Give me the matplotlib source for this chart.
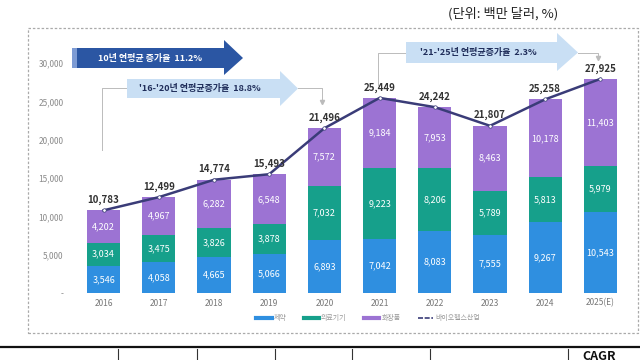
import matplotlib
matplotlib.use("Agg")
import matplotlib.pyplot as plt
from matplotlib.patches import Polygon, Rectangle
from matplotlib.lines import Line2D
import numpy as np

plt.rcParams['font.family'] = ['Noto Sans CJK KR', 'DejaVu Sans']

years = ['2016', '2017', '2018', '2019', '2020', '2021', '2022', '2023', '2024', '2025(E)']
pharma = [3546, 4058, 4665, 5066, 6893, 7042, 8083, 7555, 9267, 10543]
device = [3034, 3475, 3826, 3878, 7032, 9223, 8206, 5789, 5813, 5979]
cosmetic = [4202, 4967, 6282, 6548, 7572, 9184, 7953, 8463, 10178, 11403]
total = [10783, 12499, 14774, 15493, 21496, 25449, 24242, 21807, 25258, 27925]
yticks = [0, 5000, 10000, 15000, 20000, 25000, 30000]
series_names = ['제약', '의료기기', '화장품', '바이오헬스산업']

c_blue = '#2f8fe0'
c_green = '#16a08b'
c_purple = '#9c73d3'
c_line = '#3a3c78'

W, H = 640, 360
fig = plt.figure(figsize=(6.4, 3.6), dpi=100)


def px(x, y):
    return (x / W, 1 - y / H)


ax = fig.add_axes([76 / W, 1 - 293 / H, (628 - 76) / W, (293 - 40) / H])
x = np.arange(len(years))
bw = 0.6
bottom2 = np.array(pharma)
bottom3 = bottom2 + np.array(device)
ax.bar(x, pharma, bw, color=c_blue, zorder=2)
ax.bar(x, device, bw, bottom=bottom2, color=c_green, zorder=2)
ax.bar(x, cosmetic, bw, bottom=bottom3, color=c_purple, zorder=2)
ax.plot(x, total, color=c_line, lw=1.8, zorder=3, marker='o', ms=2.5,
        mfc='white', mec=c_line, mew=0.5)

for i in range(len(years)):
    ax.text(x[i], pharma[i] / 2, f'{pharma[i]:,}', ha='center', va='center',
            color='white', fontsize=6.5, zorder=4)
    ax.text(x[i], bottom2[i] + device[i] / 2, f'{device[i]:,}', ha='center',
            va='center', color='white', fontsize=6.5, zorder=4)
    ax.text(x[i], bottom3[i] + cosmetic[i] / 2, f'{cosmetic[i]:,}', ha='center',
            va='center', color='white', fontsize=6.5, zorder=4)
    ax.text(x[i], total[i] + 700, f'{total[i]:,}', ha='center', va='bottom',
            color='#333333', fontsize=7, fontweight='bold', zorder=4)

ax.set_xlim(-0.5, len(years) - 0.5)
ax.set_ylim(0, 33000)
ax.set_yticks(yticks)
ax.set_yticklabels(['-'] + [f'{v:,}' for v in yticks[1:]], color='#8a8a8a', fontsize=6)
ax.set_xticks(x)
ax.set_xticklabels(years, color='#777777', fontsize=6)
ax.tick_params(length=0, pad=4)
ax.tick_params(axis='y', pad=9)
for s in ax.spines.values():
    s.set_visible(False)

# dashed frame
fig.patches.append(Rectangle(px(28, 333), 610 / W, 305 / H, transform=fig.transFigure,
                             fill=False, ec='#aaaaaa', lw=0.9, ls=(0, (2, 1.5))))


def arrow(x0, x1, xt, ytop, ybot, htop, hbot, fc):
    ym = (ytop + ybot) / 2
    pts = [(x0, ytop), (x1, ytop), (x1, htop), (xt, ym), (x1, hbot), (x1, ybot), (x0, ybot)]
    fig.patches.append(Polygon([px(a, b) for a, b in pts], closed=True,
                               transform=fig.transFigure, fc=fc, ec='none', zorder=5))


arrow(72, 224, 243, 48, 68, 40, 75, '#2b56a3')
fig.patches.append(Rectangle(px(72, 68), 5 / W, 20 / H, transform=fig.transFigure,
                             fc='#7d9bd4', ec='none', zorder=6))
fig.text(*px(150, 58), '10년 연평균 증가율  11.2%', color='white', fontsize=6.5,
         fontweight='bold', ha='center', va='center', zorder=7)

arrow(127, 280, 298, 79, 98, 71, 106, '#c9dff4')
fig.text(*px(200, 88.5), "'16-'20년 연평균증가율  18.8%", color='#1f2d5a', fontsize=6.5,
         fontweight='bold', ha='center', va='center', zorder=7)

arrow(406, 557, 578, 42, 63, 33, 71, '#c9dff4')
fig.text(*px(478, 52.5), "'21-'25년 연평균증가율  2.3%", color='#1f2d5a', fontsize=6.5,
         fontweight='bold', ha='center', va='center', zorder=7)

# connectors
conn = dict(color='#bbbbbb', lw=0.7, transform=fig.transFigure)
for xs, ys in [([102, 102, 127], [150, 88, 88]), ([298, 322, 322], [88, 88, 101]),
               ([378, 378, 406], [85, 53, 53]), ([578, 598, 598], [53, 53, 58])]:
    p = [px(a, b) for a, b in zip(xs, ys)]
    fig.lines.append(Line2D([q[0] for q in p], [q[1] for q in p], **conn))
for tx, ty in [(322, 102), (598, 58)]:
    fig.lines.append(Line2D([tx / W], [1 - ty / H], marker='v', ms=3, color='#bbbbbb',
                            transform=fig.transFigure))

# legend
handles = [Line2D([], [], color=c_blue, lw=3),
           Line2D([], [], color=c_green, lw=3),
           Line2D([], [], color=c_purple, lw=3),
           Line2D([], [], color=c_line, lw=1.2, ls=(0, (3, 1)))]
fig.legend(handles, series_names, loc='center', bbox_to_anchor=px(368, 318), ncol=4,
           frameon=False, fontsize=5, handlelength=2.2, columnspacing=2.5,
           handletextpad=0.3, labelcolor='#999999')

fig.text(*px(503, 14), '(단위: 백만 달러, %)', fontsize=9.5, ha='center', va='center',
         color='#222222', fontweight='medium')

# table top below the chart
fig.lines.append(Line2D([0, 1], [1 - 347 / H] * 2, color='#111111', lw=1.6,
                        transform=fig.transFigure))
for vx in [118, 197, 275, 352, 430, 568]:
    fig.lines.append(Line2D([vx / W] * 2, [1 - 349 / H, 0], color='#333333', lw=0.8,
                            transform=fig.transFigure))
fig.text(*px(582, 363), 'CAGR', fontsize=9, fontweight='bold', ha='left', va='bottom',
         color='#111111')

fig.savefig('out.png', dpi=100)
